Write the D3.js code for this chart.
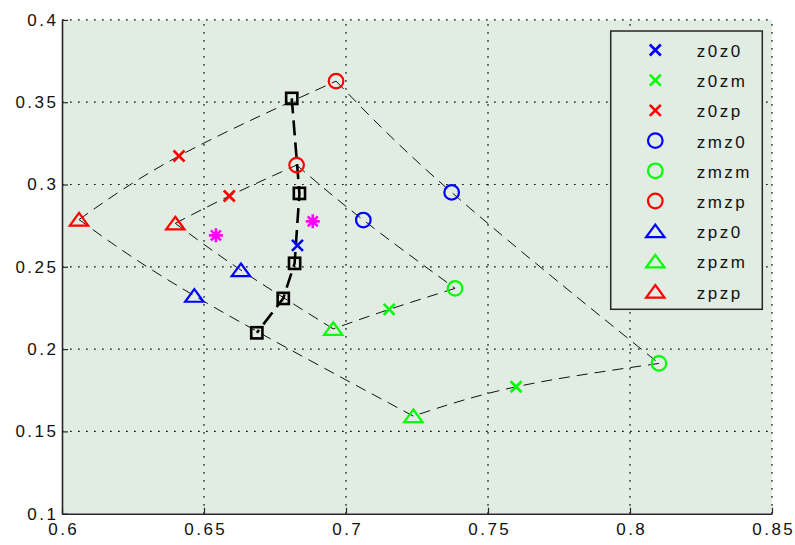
<!DOCTYPE html>
<html><head><meta charset="utf-8">
<script src="https://cdn.jsdelivr.net/npm/d3@7"></script>
<style>
html,body{margin:0;padding:0;background:#fff;}
svg text{font-family:"Liberation Sans",Arial,sans-serif;}
</style></head>
<body>
<svg id="chart" width="795" height="545"></svg>
<script>
// ---- data ----
const seriesNames = ["z0z0","z0zm","z0zp","zmz0","zmzm","zmzp","zpz0","zpzm","zpzp"];
const z0z0 = [[0.6829,0.2630]];
const z0zm = [[0.7599,0.1771],[0.7152,0.2241]];
const z0zp = [[0.6412,0.3173],[0.6589,0.2930]];
const zmz0 = [[0.7372,0.2952],[0.7061,0.2784]];
const zmzm = [[0.8102,0.1913],[0.7384,0.2369]];
const zmzp = [[0.6965,0.3628],[0.6826,0.3118]];
const zpz0 = [[0.6466,0.2324],[0.6630,0.2480]];
const zpzm = [[0.7237,0.1593],[0.6955,0.2123]];
const zpzp = [[0.6060,0.2787],[0.6399,0.2764]];
const squarePts = [[0.6809,0.3523],[0.6836,0.2946],[0.6819,0.2521],[0.6779,0.2308],[0.6686,0.2099]];
const starPts = [[0.6542,0.2691],[0.6883,0.2776]];
const xTicks = [0.6,0.65,0.7,0.75,0.8,0.85];
const xTickLabels = ["0.6","0.65","0.7","0.75","0.8","0.85"];
const yTicks = [0.1,0.15,0.2,0.25,0.3,0.35,0.4];
const yTickLabels = ["0.1","0.15","0.2","0.25","0.3","0.35","0.4"];

const seriesData = {z0z0,z0zm,z0zp,zmz0,zmzm,zmzp,zpz0,zpzm,zpzp};
// styles
const seriesStyle = {
  z0z0:{m:"x",c:"#0000ff"}, z0zm:{m:"x",c:"#00ff00"}, z0zp:{m:"x",c:"#ff0000"},
  zmz0:{m:"o",c:"#0000ff"}, zmzm:{m:"o",c:"#00ff00"}, zmzp:{m:"o",c:"#ff0000"},
  zpz0:{m:"^",c:"#0000ff"}, zpzm:{m:"^",c:"#00ff00"}, zpzp:{m:"^",c:"#ff0000"}
};
// the sides of each quadrilateral: corner, middle, corner (index 0 = outer, 1 = inner)
const sideSeries = [["zpzp","z0zp","zmzp"],["zmzp","zmz0","zmzm"],["zmzm","z0zm","zpzm"],["zpzm","zpz0","zpzp"]];

// ---- layout ----
const svg = d3.select("#chart");
const L=62, R=772, T=19.9, B=513.7;
const x = d3.scaleLinear().domain([0.6,0.85]).range([L,R]);
const y = d3.scaleLinear().domain([0.1,0.4]).range([B,T]);
const BG="#e1ece2", AX="#262626", FS=17, LS=2.5;

svg.append("rect").attr("x",L).attr("y",T).attr("width",R-L).attr("height",B-T).attr("fill",BG);

// grid
const grid = svg.append("g").attr("stroke","#111").attr("stroke-width",1.2).attr("stroke-dasharray","1.7,6.3");
grid.selectAll(".gx").data(xTicks.slice(1)).join("line")
  .attr("x1",d=>x(d)).attr("x2",d=>x(d)).attr("y1",B).attr("y2",T);
grid.selectAll(".gy").data(yTicks.slice(1)).join("line")
  .attr("y1",d=>y(d)).attr("y2",d=>y(d)).attr("x1",L).attr("x2",R);

// thin dashed curves
const line = d3.line().x(d=>x(d[0])).y(d=>y(d[1])).curve(d3.curveNatural);
const thin = svg.append("g").attr("fill","none").attr("stroke","#111").attr("stroke-width",1).attr("stroke-dasharray","11,7");
[0,1].forEach(k=>{
  sideSeries.forEach(s=>{
    thin.append("path").attr("d", line(s.map(n=>seriesData[n][k])));
  });
});
// thick dashed line through the squares
svg.append("path").attr("d", d3.line().x(d=>x(d[0])).y(d=>y(d[1]))(squarePts))
  .attr("fill","none").attr("stroke","#000").attr("stroke-width",2.6).attr("stroke-dasharray","15,7");

// marker drawing
function marker(g, type, color){
  g.attr("fill","none").attr("stroke",color);
  if(type==="o"){ g.append("circle").attr("r",7.3).attr("stroke-width",2.2); }
  else if(type==="^"){ g.append("path").attr("d","M0,-6.6L9.2,6L-9.2,6Z").attr("stroke-width",2.2).attr("stroke-linejoin","miter"); }
  else if(type==="x"){ g.append("path").attr("d","M-5.5,-5.5L5.5,5.5M-5.5,5.5L5.5,-5.5").attr("stroke-width",2.6); }
  else if(type==="s"){ g.append("rect").attr("x",-5.6).attr("y",-5.6).attr("width",11.2).attr("height",11.2).attr("stroke-width",2.6); }
  else if(type==="*"){ g.append("path").attr("d","M-7,0L7,0M0,-7L0,7M-5,-5L5,5M-5,5L5,-5").attr("stroke-width",2.6); }
}
const mk = svg.append("g");
squarePts.forEach(p=>marker(mk.append("g").attr("transform",`translate(${x(p[0])},${y(p[1])})`),"s","#000"));
seriesNames.forEach(n=>{
  seriesData[n].forEach(p=>marker(mk.append("g").attr("transform",`translate(${x(p[0])},${y(p[1])})`),seriesStyle[n].m,seriesStyle[n].c));
});
starPts.forEach(p=>marker(mk.append("g").attr("transform",`translate(${x(p[0])},${y(p[1])})`),"*","#ff00ff"));

// axes
const xAxis = d3.axisBottom(x).tickValues(xTicks).tickFormat((d,i)=>xTickLabels[i]).tickSizeInner(-6).tickSizeOuter(0).tickPadding(9);
const yAxis = d3.axisLeft(y).tickValues(yTicks).tickFormat((d,i)=>yTickLabels[i]).tickSizeInner(-6).tickSizeOuter(0).tickPadding(6-LS);
const gx = svg.append("g").attr("transform",`translate(0,${B})`).call(xAxis);
const gy = svg.append("g").attr("transform",`translate(${L},0)`).call(yAxis);
[gx,gy].forEach(g=>{
  g.select(".domain").attr("stroke",AX).attr("stroke-width",1.6);
  g.selectAll(".tick line").attr("stroke",AX).attr("stroke-width",1.2);
  g.selectAll(".tick text").attr("fill","#111").attr("font-size",FS).attr("letter-spacing",LS)
    .attr("font-family","Liberation Sans, Arial, sans-serif");
});
gx.selectAll(".tick text").attr("dx",LS/2);

// legend
const lg = svg.append("g");
lg.append("rect").attr("x",610.7).attr("y",31).attr("width",151.6).attr("height",278.3)
  .attr("fill",BG).attr("stroke",AX).attr("stroke-width",1.5);
seriesNames.forEach((n,i)=>{
  const ry = 50 + 30.2*i;
  marker(lg.append("g").attr("transform",`translate(655.3,${ry})`),seriesStyle[n].m,seriesStyle[n].c);
  lg.append("text").attr("x",696.7).attr("y",ry+7).attr("font-size",FS).attr("letter-spacing",LS)
    .attr("fill","#111").text(n);
});
</script>
</body></html>
